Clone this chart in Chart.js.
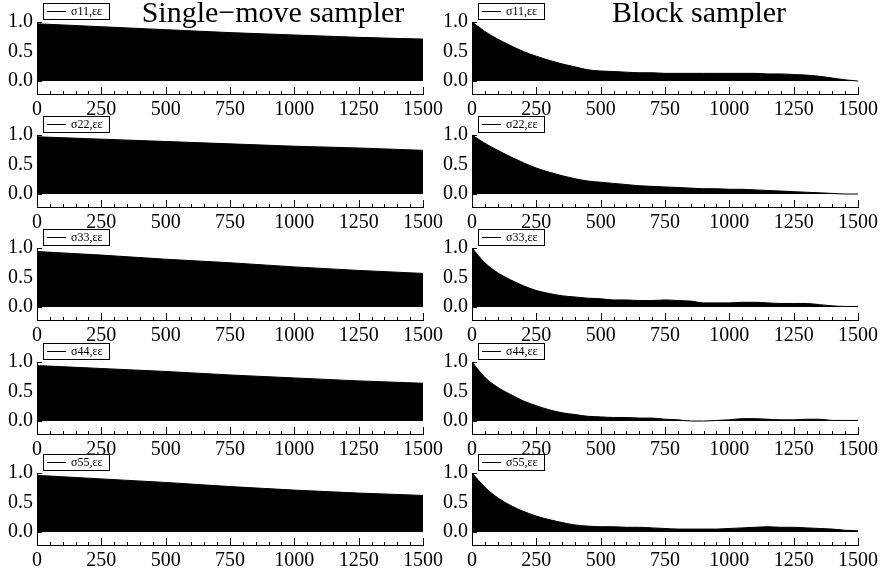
<!DOCTYPE html>
<html>
<head>
<meta charset="utf-8">
<script src="https://cdn.jsdelivr.net/npm/chart.js@4"></script>
<style>
  body { margin: 0; background: #fff; }
  #wrap { position: relative; width: 880px; height: 576px; overflow: hidden; }
  #wrap canvas { position: absolute; }
  .title { position: absolute; top: -3px; font: 30px/30px 'Liberation Serif', 'Times New Roman', serif; color: #000; white-space: nowrap; transform: translateX(-50%); }
</style>
</head>
<body>
<div id="wrap">
  <div class="title" style="left:273px">Single−move sampler</div>
  <div class="title" style="left:699px">Block sampler</div>
</div>
<script>
// Lags
const lagsCoarse = [0, 250, 500, 750, 1000, 1250, 1500];
const lagsFine = [0, 50, 100, 150, 200, 250, 300, 350, 400, 450, 500, 550, 600, 650, 700, 750,
                  800, 850, 900, 950, 1000, 1050, 1100, 1150, 1200, 1250, 1300, 1350, 1400, 1450, 1500];

const seriesLabels = ['σ11,εε', 'σ22,εε', 'σ33,εε', 'σ44,εε', 'σ55,εε'];

// Single-move sampler autocorrelations (read at every 250 lags)
const single11 = [0.97, 0.92, 0.87, 0.82, 0.78, 0.74, 0.71];
const single22 = [0.97, 0.93, 0.89, 0.85, 0.81, 0.78, 0.74];
const single33 = [0.94, 0.88, 0.81, 0.75, 0.68, 0.62, 0.57];
const single44 = [0.94, 0.89, 0.84, 0.78, 0.73, 0.68, 0.64];
const single55 = [0.96, 0.90, 0.84, 0.77, 0.71, 0.66, 0.62];

// Block sampler autocorrelations (read at every 50 lags)
const block11 = [1.00, 0.84, 0.71, 0.60, 0.50, 0.42, 0.35, 0.29, 0.24, 0.19, 0.17, 0.16, 0.15, 0.14, 0.14, 0.13,
                 0.13, 0.13, 0.13, 0.13, 0.13, 0.13, 0.13, 0.12, 0.12, 0.11, 0.10, 0.08, 0.05, 0.02, 0.00];
const block22 = [1.00, 0.86, 0.74, 0.63, 0.53, 0.44, 0.37, 0.31, 0.26, 0.22, 0.20, 0.18, 0.16, 0.14, 0.13, 0.12,
                 0.11, 0.10, 0.09, 0.09, 0.08, 0.08, 0.07, 0.06, 0.05, 0.04, 0.03, 0.02, 0.01, 0.00, 0.00];
const block33 = [1.00, 0.75, 0.58, 0.46, 0.36, 0.28, 0.23, 0.19, 0.17, 0.15, 0.14, 0.12, 0.12, 0.11, 0.11, 0.12,
                 0.11, 0.10, 0.07, 0.07, 0.07, 0.08, 0.08, 0.07, 0.06, 0.06, 0.06, 0.04, 0.02, 0.01, 0.01];
const block44 = [1.00, 0.74, 0.57, 0.45, 0.34, 0.26, 0.19, 0.14, 0.11, 0.08, 0.07, 0.06, 0.06, 0.05, 0.05, 0.03,
                 0.02, 0.00, 0.00, 0.01, 0.02, 0.04, 0.04, 0.03, 0.02, 0.02, 0.03, 0.03, 0.01, 0.01, 0.01];
const block55 = [1.00, 0.76, 0.58, 0.45, 0.35, 0.27, 0.21, 0.16, 0.12, 0.10, 0.09, 0.09, 0.08, 0.08, 0.07, 0.06,
                 0.05, 0.05, 0.05, 0.05, 0.06, 0.07, 0.08, 0.09, 0.08, 0.08, 0.07, 0.06, 0.05, 0.03, 0.02];

const singleSeries = [single11, single22, single33, single44, single55];
const blockSeries = [block11, block22, block33, block44, block55];

// y pixel of the 1.0 line in each row
const rowTops = [22, 135, 248, 362, 473];

const serif = "'Liberation Serif', 'Times New Roman', serif";

// inward tick marks + framed legend
const panelDecor = {
  id: 'panelDecor',
  afterDraw(chart) {
    const { ctx, chartArea: a, scales: { x, y } } = chart;
    ctx.save();
    ctx.strokeStyle = '#000';
    ctx.lineWidth = 1;
    ctx.beginPath();
    for (let v = 0; v <= 1500; v += 50) {
      const px = Math.round(x.getPixelForValue(v)) + 0.5;
      const len = v % 250 === 0 ? 7 : 3;
      ctx.moveTo(px, a.bottom);
      ctx.lineTo(px, a.bottom - len);
    }
    [0, 0.5, 1].forEach(v => {
      const py = Math.round(y.getPixelForValue(v)) + 0.5;
      ctx.moveTo(a.left, py);
      ctx.lineTo(a.left + 5, py);
    });
    ctx.stroke();

    const bx = Math.round(a.left) + 6, by = Math.round(a.top) - 19;
    ctx.fillStyle = '#fff';
    ctx.fillRect(bx, by, 66, 16);
    ctx.strokeRect(bx + 0.5, by + 0.5, 66, 16);
    ctx.beginPath();
    ctx.moveTo(bx + 4, by + 8.5);
    ctx.lineTo(bx + 23, by + 8.5);
    ctx.stroke();
    ctx.fillStyle = '#000';
    ctx.font = '12px ' + serif;
    ctx.textBaseline = 'middle';
    ctx.fillText(chart.data.datasets[0].label, bx + 28, by + 9);
    ctx.restore();
  }
};

function makePanel(left, top, lags, values, label, smooth) {
  const canvas = document.createElement('canvas');
  canvas.width = 450;
  canvas.height = 116;
  canvas.style.left = left + 'px';
  canvas.style.top = top + 'px';
  document.getElementById('wrap').insertBefore(canvas, document.querySelector('.title'));

  new Chart(canvas, {
    type: 'line',
    data: {
      datasets: [{
        label: label,
        data: lags.map((l, i) => ({ x: l, y: values[i] })),
        fill: 'origin',
        backgroundColor: '#000',
        borderColor: '#000',
        borderWidth: 1,
        pointRadius: 0,
        cubicInterpolationMode: smooth ? 'monotone' : 'default',
        tension: 0
      }]
    },
    options: {
      responsive: false,
      animation: false,
      devicePixelRatio: 1,
      layout: { padding: { top: 20, right: 27, left: 0, bottom: 0 } },
      plugins: { legend: { display: false }, tooltip: { enabled: false } },
      scales: {
        x: {
          type: 'linear',
          min: 0,
          max: 1500,
          grid: { display: false, drawTicks: false },
          border: { color: '#000', width: 1 },
          ticks: {
            stepSize: 250,
            autoSkip: false,
            maxRotation: 0,
            padding: 4,
            color: '#000',
            font: { family: serif, size: 20 },
            callback: v => String(v)
          },
          afterFit: s => { s.height = 24; }
        },
        y: {
          min: -0.22,
          max: 1,
          grid: { display: false, drawTicks: false },
          border: { color: '#000', width: 1 },
          afterBuildTicks: s => { s.ticks = [0, 0.5, 1].map(v => ({ value: v })); },
          ticks: {
            padding: 4,
            color: '#000',
            font: { family: serif, size: 20 },
            callback: v => Number(v).toFixed(1)
          },
          afterFit: s => { s.width = 37; }
        }
      }
    },
    plugins: [panelDecor]
  });
}

rowTops.forEach((t, r) => {
  makePanel(0, t - 20, lagsCoarse, singleSeries[r], seriesLabels[r], false);
  makePanel(435, t - 20, lagsFine, blockSeries[r], seriesLabels[r], true);
});
</script>
</body>
</html>
